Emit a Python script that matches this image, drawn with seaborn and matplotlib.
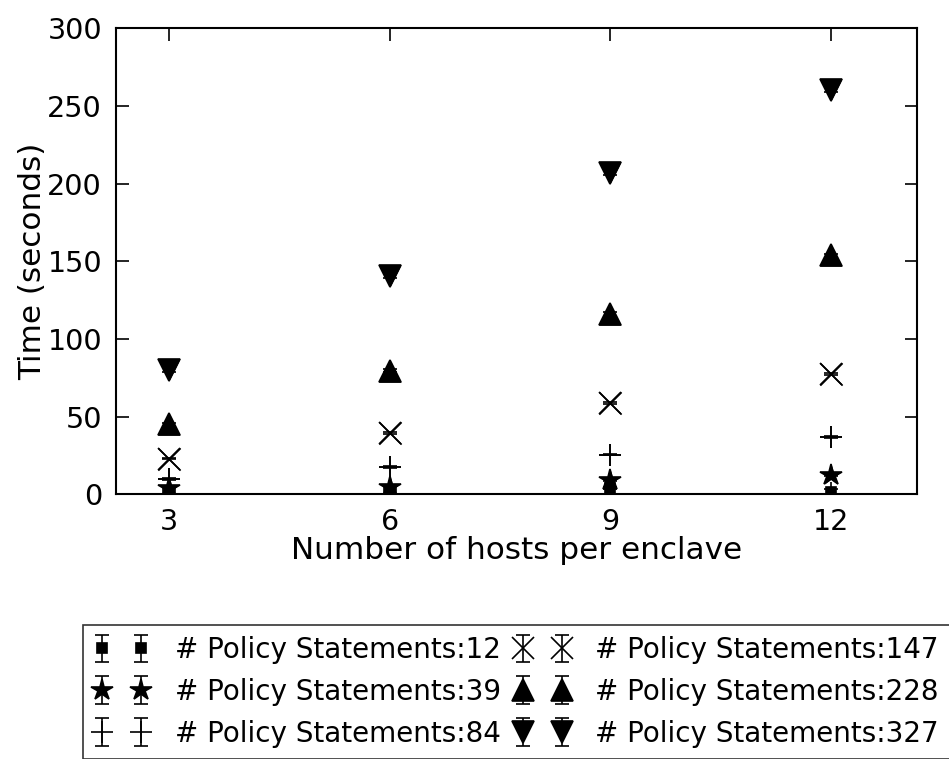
import matplotlib
matplotlib.use("Agg")
import matplotlib.pyplot as plt
import seaborn as sns
import numpy as np
import pandas as pd

hosts = [3, 6, 9, 12]
labels = ["# Policy Statements:12", "# Policy Statements:39", "# Policy Statements:84",
          "# Policy Statements:147", "# Policy Statements:228", "# Policy Statements:327"]
t12 = [1.5, 2.0, 4.0, 1.7]
t39 = [4.0, 5.0, 9.2, 12.4]
t84 = [9.8, 17.7, 25.6, 37.0]
t147 = [23.0, 39.5, 58.7, 77.5]
t228 = [45.0, 79.5, 116.0, 153.8]
t327 = [80.0, 140.6, 207.0, 260.5]
err12 = [0.5, 0.5, 0.8, 1.5]
err39 = [0.5, 0.6, 0.8, 0.8]
err84 = [0.4, 0.5, 0.5, 0.5]
err147 = [0.5, 0.5, 0.6, 0.6]
err228 = [1.0, 1.0, 1.2, 1.2]
err327 = [1.2, 1.2, 1.5, 1.5]

series = [t12, t39, t84, t147, t228, t327]
errs = [err12, err39, err84, err147, err228, err327]
markers = ["s", "*", "+", "x", "^", "v"]
msizes = [6.5, 16, 16, 16, 16, 16]

sns.set_style("ticks")
plt.rcParams['font.family'] = ['DejaVu Sans']
plt.rcParams['text.color'] = 'black'
plt.rcParams['axes.labelcolor'] = 'black'

fig = plt.figure(figsize=(9.49, 7.59), dpi=100)
ax = fig.add_axes([0.1222, 0.3487, 0.9663 - 0.1222, 0.9627 - 0.3487])

handles = []
for lab, y, e, m, ms in zip(labels, series, errs, markers, msizes):
    df = pd.DataFrame({"hosts": hosts, "time": y})
    sns.scatterplot(data=df, x="hosts", y="time", marker=m, s=(ms ** 2),
                    color="black", edgecolor="black", linewidth=1.2 if m in "+x" else 0,
                    ax=ax, legend=False, zorder=3)
    h = ax.errorbar(hosts, y, yerr=e, fmt=m, color="black", ecolor="black",
                    markersize=ms, capsize=4.7, elinewidth=1.2, capthick=1.2,
                    markeredgewidth=1.2, ls="none", label=lab, zorder=3)
    handles.append(h)

ax.set_xlim(2.28, 13.17)
ax.set_ylim(0, 300)
ax.set_xticks(hosts)
ax.set_yticks([0, 50, 100, 150, 200, 250, 300])
ax.set_xlabel("Number of hosts per enclave", fontsize=22.4, labelpad=0, color="black")
ax.set_ylabel("Time (seconds)", fontsize=22.4, labelpad=0, color="black")
ax.tick_params(axis="both", which="both", direction="in", length=9, width=1.2,
               labelsize=20.6, top=True, right=True, color="black", labelcolor="black", pad=10)
for sp in ax.spines.values():
    sp.set_visible(True)
    sp.set_linewidth(1.5)
    sp.set_color("black")

leg = fig.legend(handles=handles, labels=labels, ncol=2, numpoints=2,
                 loc="upper left", bbox_to_anchor=(83 / 949, 1 - 625 / 759), fontsize=20,
                 frameon=True, fancybox=False, edgecolor="black",
                 handlelength=2.0, handletextpad=0.9, columnspacing=0.5,
                 labelspacing=0.5, borderpad=0.4, borderaxespad=0)
leg.get_frame().set_linewidth(1.2)
for t in leg.get_texts():
    t.set_color("black")

fig.savefig("out.png", dpi=100, facecolor="white")
